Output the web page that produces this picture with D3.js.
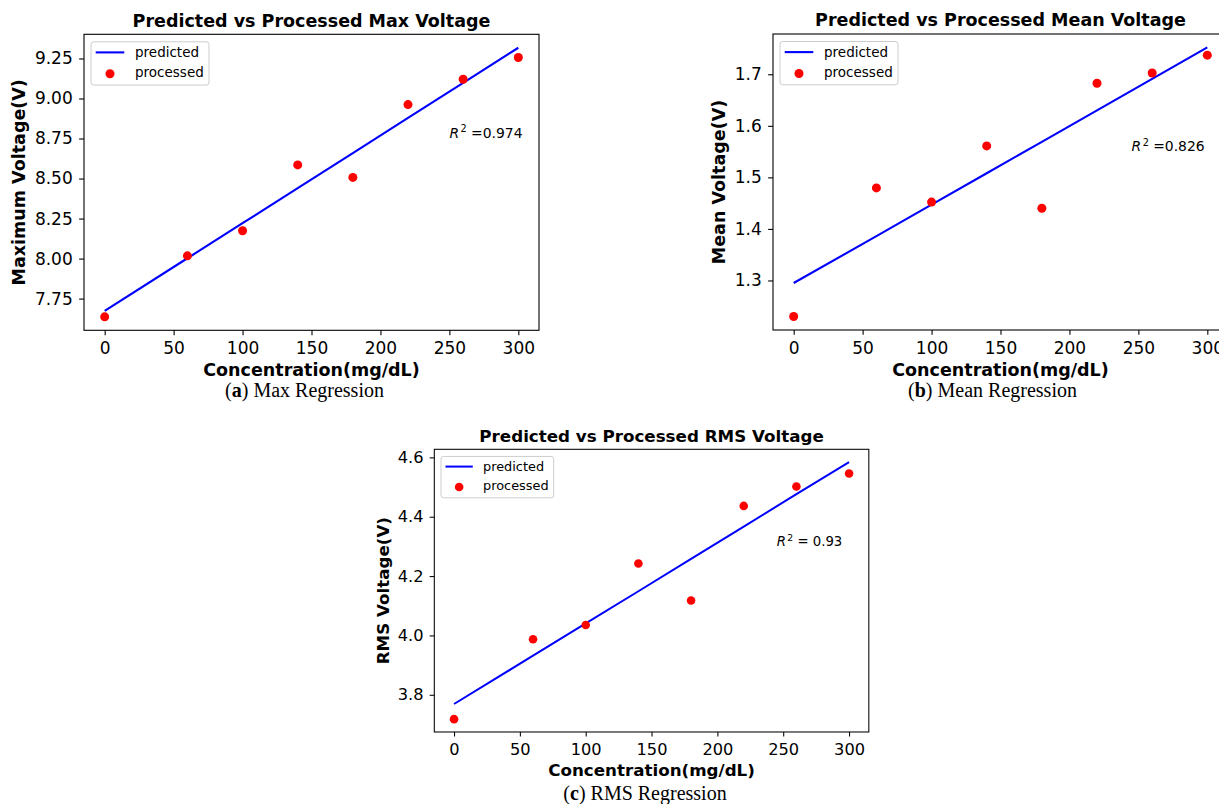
<!DOCTYPE html>
<html>
<head>
<meta charset="utf-8">
<script src="https://cdn.jsdelivr.net/npm/d3@7"></script>
<style>
	body { margin: 0; background: #fff; }
	svg { display: block; font-family: "DejaVu Sans", sans-serif; }
	text { white-space: pre; }
</style>
</head>
<body>
<svg id="fig"></svg>
<script>
// values
const concentration = [0, 60, 100, 140, 180, 220, 260, 300];

const maxProcessed = [7.636, 8.017, 8.174, 8.585, 8.507, 8.962, 9.12, 9.256];
const maxPredicted = [7.673, 8.002, 8.221, 8.44, 8.659, 8.879, 9.098, 9.317];

const meanProcessed = [1.23, 1.4795, 1.452, 1.561, 1.44, 1.6825, 1.7025, 1.737];
const meanPredicted = [1.295, 1.386, 1.447, 1.508, 1.569, 1.63, 1.691, 1.752];

const rmsProcessed = [3.718, 3.987, 4.035, 4.2425, 4.118, 4.4365, 4.502, 4.546];
const rmsPredicted = [3.769, 3.932, 4.041, 4.149, 4.258, 4.367, 4.476, 4.584];

const xTicks = [0, 50, 100, 150, 200, 250, 300];
const maxTicks = [7.75, 8.0, 8.25, 8.5, 8.75, 9.0, 9.25];
const meanTicks = [1.3, 1.4, 1.5, 1.6, 1.7];
const rmsTicks = [3.8, 4.0, 4.2, 4.4, 4.6];

const W = 1219, H = 804;
// axes box of one panel, in panel units
const aw = 455, ah = 296;
const tickFs = 17;   // tick labels
const labelFs = 17.5; // title and axis labels (bold)

const svg = d3.select("#fig").attr("width", W).attr("height", H);
svg.append("rect").attr("width", W).attr("height", H).attr("fill", "#fff");

function drawPanel(p) {
	const g = svg.append("g")
		.attr("transform", `translate(${p.tx},${p.ty}) scale(${p.k})`);

	const x = d3.scaleLinear().domain([-15, 315]).range([0, aw]);

	// matplotlib style 5% margin round the data
	const all = p.processed.concat(p.predicted);
	const lo = d3.min(all), hi = d3.max(all), pad = (hi - lo) * 0.05;
	const y = d3.scaleLinear().domain([lo - pad, hi + pad]).range([ah, 0]);

	// axes
	const xAxis = g.append("g")
		.attr("transform", `translate(0,${ah})`)
		.call(d3.axisBottom(x).tickValues(xTicks).tickSize(4.86).tickPadding(7).tickFormat(d3.format("d")));
	const yAxis = g.append("g")
		.call(d3.axisLeft(y).tickValues(p.yTicks).tickSize(4.86).tickPadding(6.4).tickFormat(d3.format(p.fmt)));
	[xAxis, yAxis].forEach((a) => {
		a.select(".domain").remove();
		a.selectAll("line").attr("stroke", "#000").attr("stroke-width", 1.1);
		a.selectAll("text").attr("fill", "#000")
			.style("font-family", "DejaVu Sans").style("font-size", tickFs + "px");
	});

	// frame
	g.append("rect")
		.attr("width", aw).attr("height", ah)
		.attr("fill", "none").attr("stroke", "#000").attr("stroke-width", 1.1);

	// predicted line
	const pts = concentration.map((c, i) => [c, p.predicted[i]]);
	g.append("path")
		.attr("d", d3.line().x((d) => x(d[0])).y((d) => y(d[1]))(pts))
		.attr("fill", "none").attr("stroke", "#0000ff").attr("stroke-width", 2.1);

	// processed points
	g.append("g").selectAll()
		.data(concentration.map((c, i) => [c, p.processed[i]]))
		.join("circle")
		.attr("cx", (d) => x(d[0]))
		.attr("cy", (d) => y(d[1]))
		.attr("r", 4.5)
		.attr("fill", "#ff0000");

	// R^2 note
	const note = g.append("text")
		.attr("x", x(p.noteAt[0])).attr("y", y(p.noteAt[1]))
		.style("font-size", "13.9px").attr("fill", "#000");
	note.append("tspan").style("font-style", "italic").text("R");
	note.append("tspan").attr("dx", 1.5).attr("dy", -5.5).style("font-size", "9.7px").text("2");
	note.append("tspan").attr("dy", 5.5).text(p.note);

	// title
	g.append("text")
		.attr("x", aw / 2).attr("y", -7.6)
		.attr("text-anchor", "middle")
		.style("font-weight", "bold").style("font-size", labelFs + "px")
		.text(p.title);

	// axis labels
	g.append("text")
		.attr("x", aw / 2).attr("y", ah + 46)
		.attr("text-anchor", "middle")
		.style("font-weight", "bold").style("font-size", labelFs + "px")
		.text("Concentration(mg/dL)");

	const tickW = d3.max(yAxis.selectAll("text").nodes(), (n) => n.getComputedTextLength());
	g.append("text")
		.attr("transform", `translate(${-(11.3 + tickW + 9.5)},${ah / 2}) rotate(-90)`)
		.attr("text-anchor", "middle")
		.style("font-weight", "bold").style("font-size", labelFs + "px")
		.text(p.ylabel);

	// legend
	const lg = g.append("g").attr("transform", "translate(7,7.5)");
	lg.append("rect")
		.attr("width", 118).attr("height", 43.3).attr("rx", 2.8)
		.attr("fill", "#fff").attr("fill-opacity", 0.8)
		.attr("stroke", "#cccccc").attr("stroke-width", 1);
	lg.append("line")
		.attr("x1", 4.7).attr("x2", 33.3).attr("y1", 10.6).attr("y2", 10.6)
		.attr("stroke", "#0000ff").attr("stroke-width", 2.1);
	lg.append("circle").attr("cx", 19).attr("cy", 32).attr("r", 4.5).attr("fill", "#ff0000");
	lg.append("text").attr("x", 44).attr("y", 15).style("font-size", "13.5px").text("predicted");
	lg.append("text").attr("x", 44).attr("y", 35).style("font-size", "13.5px").text("processed");
}

function caption(cx, cy, letter, rest) {
	const t = svg.append("text")
		.attr("x", cx).attr("y", cy)
		.attr("text-anchor", "middle")
		.style("font-family", "'Liberation Serif', 'Times New Roman', serif")
		.style("font-size", "20px");
	t.append("tspan").text("(");
	t.append("tspan").style("font-weight", "bold").text(letter);
	t.append("tspan").text(") " + rest);
}

drawPanel({
	tx: 84, ty: 34.3, k: 1,
	title: "Predicted vs Processed Max Voltage",
	ylabel: "Maximum Voltage(V)",
	processed: maxProcessed, predicted: maxPredicted,
	yTicks: maxTicks, fmt: ".2f",
	noteAt: [250, 8.754], note: " =0.974",
});
drawPanel({
	tx: 773, ty: 34, k: 1,
	title: "Predicted vs Processed Mean Voltage",
	ylabel: "Mean Voltage(V)",
	processed: meanProcessed, predicted: meanPredicted,
	yTicks: meanTicks, fmt: ".1f",
	noteAt: [245, 1.551], note: " =0.826",
});
drawPanel({
	tx: 434.3, ty: 449.3, k: 0.955,
	title: "Predicted vs Processed RMS Voltage",
	ylabel: "RMS Voltage(V)",
	processed: rmsProcessed, predicted: rmsPredicted,
	yTicks: rmsTicks, fmt: ".1f",
	noteAt: [245, 4.3], note: " = 0.93",
});

caption(304.5, 397.3, "a", "Max Regression");
caption(992.5, 396.7, "b", "Mean Regression");
caption(645, 800, "c", "RMS Regression");
</script>
</body>
</html>
